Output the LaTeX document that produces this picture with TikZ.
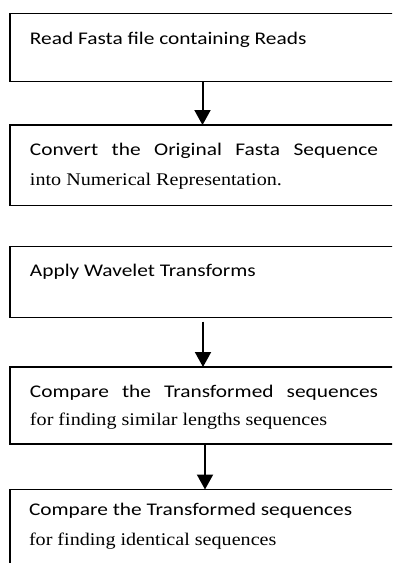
\documentclass[tikz,border=0pt]{standalone}
\usepackage{fontspec}
\usetikzlibrary{arrows.meta}
\newfontfamily\calfont[FakeStretch=1.2]{Carlito}
\newfontfamily\tnrfont[FakeStretch=1.13]{Liberation Serif}
\tikzset{
  box/.style={draw=black, line width=1.3pt, inner sep=0pt, outer sep=0pt, anchor=north west, minimum width=395pt},
  txt/.style={inner sep=0pt, outer sep=0pt, anchor=base west, font=\fontsize{17.8pt}{20pt}\selectfont},
  flow/.style={line width=2pt, -{Triangle[width=16pt,length=15pt]}}
}
\begin{document}
\begin{tikzpicture}[x=1pt,y=-1pt]
\useasboundingbox (0,0) rectangle (392,563);
\fill[white] (0,0) rectangle (392,563);
\clip (0,0) rectangle (392,563);
% boxes
\node[box, minimum height=68pt] (b1) at (10,13.5) {};
\node[box, minimum height=80.5pt] (b2) at (10,125) {};
\node[box, minimum height=71pt] (b3) at (10,246.5) {};
\node[box, minimum height=77pt] (b4) at (10,367) {};
\node[box, minimum height=120pt] (b5) at (10,489.5) {};
% texts
\node[txt] (t1) at (30,44) {\calfont Read Fasta file containing Reads};
\node[txt] (t2a) at (30,155) {\makebox[348pt][s]{\calfont Convert the Original Fasta Sequence}};
\node[txt] (t2b) at (30,185) {\tnrfont into Numerical Representation.};
\node[txt] (t3) at (30,276) {\calfont Apply Wavelet Transforms};
\node[txt] (t4a) at (30,397) {\makebox[348pt][s]{\calfont Compare the Transformed sequences}};
\node[txt] (t4b) at (30,425) {\tnrfont for finding similar lengths sequences};
\node[txt] (t5a) at (29,515) {\calfont Compare the Transformed sequences};
\node[txt] (t5b) at (29,545) {\tnrfont for finding identical sequences};
% arrows
\draw[flow] ([xshift=-5pt]b1.south) -- ([xshift=-5pt]b2.north);
\draw[flow] ([xshift=-4.5pt,yshift=-4pt]b3.south) -- ([xshift=-4.5pt]b4.north);
\draw[flow] ([xshift=-2.5pt]b4.south) -- ([xshift=-2.5pt]b5.north);
\end{tikzpicture}
\end{document}
